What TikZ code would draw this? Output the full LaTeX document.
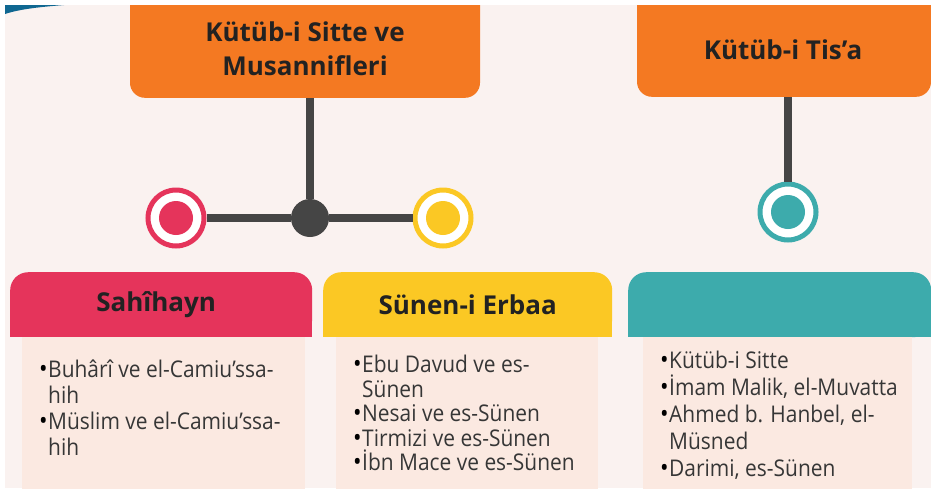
\documentclass[tikz,border=0pt]{standalone}
\usepackage{fontspec}
\setmainfont{Open Sans}
\newfontfamily\listfont[FakeStretch=0.91]{Open Sans}
\usetikzlibrary{positioning}
\definecolor{bgC}{HTML}{FAF2F0}
\definecolor{bodyC}{HTML}{FBE9E1}
\definecolor{orangeC}{HTML}{F47922}
\definecolor{redC}{HTML}{E5345B}
\definecolor{yellowC}{HTML}{FBC824}
\definecolor{tealC}{HTML}{3DABAC}
\definecolor{lineC}{HTML}{454545}
\definecolor{inkC}{HTML}{222222}
\definecolor{textC}{HTML}{363636}
\definecolor{swooshC}{HTML}{0F6791}
\def\hTop{272}
\def\hMid{304}
\def\hBot{337}
\tikzstyle{box}=[fill=orangeC,rounded corners=15pt,inner sep=0pt]
\tikzstyle{title}=[font=\fontsize{26}{34}\selectfont\bfseries,text=inkC,align=center]
\tikzstyle{head}=[rounded corners=18pt,inner sep=0pt,minimum height=65pt,font=\fontsize{26}{30}\selectfont\bfseries,text=inkC]
\tikzstyle{body}=[fill=bodyC,inner sep=0pt,anchor=north west,minimum height=153pt]
\tikzstyle{items}=[text=textC,align=left,anchor=north west,inner sep=0pt]
\tikzstyle{ring}=[circle,fill=white,line width=5pt,minimum size=56pt,inner sep=0pt]
\tikzstyle{hub}=[circle,fill=lineC,minimum size=38pt,inner sep=0pt]
\tikzstyle{conn}=[draw=lineC,line width=8pt]
\newcommand{\bul}{\makebox[9pt][l]{\color{black}\fontsize{25}{25}\selectfont\textbullet}}
\newcommand{\ind}{\hspace*{9pt}}
\newcommand{\newRing}[3]{\node[ring,draw=#2,path picture={\fill[#2] (path picture bounding box.center) circle (17pt);}](#1) at (#3) {};}
\newcommand{\newHead}[5]{% name, colour, left, right, text
  \fill[#2] (#3,\hMid) rectangle (#4,\hBot);
  \node[head,fill=#2,minimum width=#4pt-#3pt,anchor=north west](#1) at (#3,\hTop) {#5};}
\newcommand{\newBody}[6]{% name, left, right, line skip, top gap, list
  \node[body,minimum width=#3pt-#2pt](#1) at (#2,\hBot) {};
  \node[items,font=\listfont\fontsize{23}{#4}\selectfont](#1L) at ([xshift=17pt,yshift=-#5pt]#1.north west) {#6};}

\begin{document}
\begin{tikzpicture}[x=1pt,y=-1pt]
      \useasboundingbox (0,0) rectangle (931,488);
      \clip (0,0) rectangle (931,488);
      \fill[bgC] (0,0) rectangle (931,488);
      % top boxes
      \node[box,minimum width=350pt,minimum height=123pt,anchor=south](box1) at (305,98) {};
      \node[title](title1) at (305,49) {Kütüb-i Sitte ve\\Musannifleri};
      \node[box,minimum width=294pt,minimum height=122pt,anchor=south](box2) at (784,97) {};
      \node[title](title2) at (783,50) {Kütüb-i Tis’a};
      % rings
      \node[hub](hub) at (310,218) {};
      \newRing{ringS}{redC}{176,218}
      \newRing{ringE}{yellowC}{443,218}
      \newRing{ringT}{tealC}{788,212}
      \draw[conn] (hub) -- (hub |- box1.south);
      \draw[conn] (hub) -- (ringS);
      \draw[conn] (hub) -- (ringE);
      \draw[conn] (ringT) -- (ringT |- box2.south);
      % headers and lists
      \newHead{headS}{redC}{10}{312}{\hspace*{-10pt}Sahîhayn}
      \newHead{headE}{yellowC}{323}{612}{Sünen-i Erbaa}
      \newHead{headT}{tealC}{628}{931}{}
      \newBody{bodyS}{22}{305}{26}{23}{\bul Buhârî ve el-Camiu’ssa-\\\ind hih\\\bul Müslim ve el-Camiu’ssa-\\\ind hih}
      \newBody{bodyE}{336}{598}{24.5}{18}{\bul Ebu Davud ve es-\\\ind Sünen\\\bul Nesai ve es-Sünen\\\bul Tirmizi ve es-Sünen\\\bul İbn Mace ve es-Sünen}
      \newBody{bodyT}{643}{912}{27}{14}{\bul Kütüb-i Sitte\\\bul İmam Malik, el-Muvatta\\\bul Ahmed b. Hanbel, el-\\\ind Müsned\\\bul Darimi, es-Sünen}
      % frame
      \fill[white] (0,0) rectangle (931,5);
      \fill[white] (0,0) rectangle (5,488);
      \fill[swooshC] (5,5) -- (64,5) .. controls (40,7) and (20,9) .. (5,14) -- cycle;
    \end{tikzpicture}
\end{document}
